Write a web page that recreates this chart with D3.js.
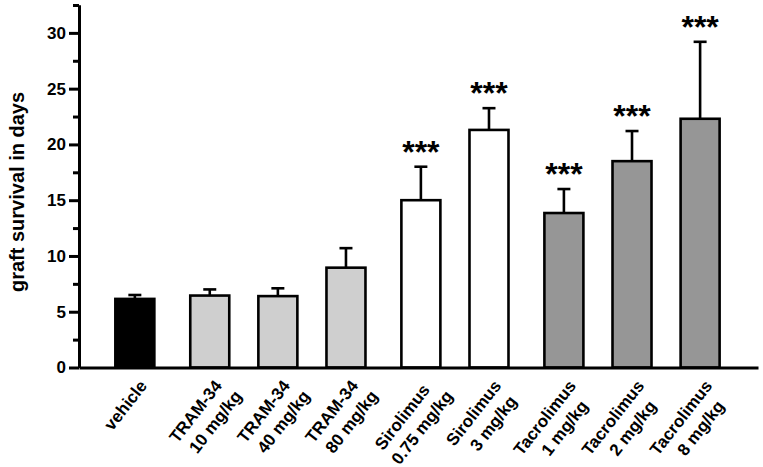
<!DOCTYPE html>
<html>
<head>
<meta charset="utf-8">
<script src="https://cdn.jsdelivr.net/npm/d3@7"></script>
<style>
  body { margin: 0; background: #fff; }
  text { font-family: "Liberation Sans", Arial, sans-serif; font-weight: bold; fill: #000; }
</style>
</head>
<body>
<svg width="763" height="467"></svg>
<script>
// data
const labels = [
    ["vehicle"],
    ["TRAM-34", "10 mg/kg"],
    ["TRAM-34", "40 mg/kg"],
    ["TRAM-34", "80 mg/kg"],
    ["Sirolimus", "0.75 mg/kg"],
    ["Sirolimus", "3 mg/kg"],
    ["Tacrolimus", "1 mg/kg"],
    ["Tacrolimus", "2 mg/kg"],
    ["Tacrolimus", "8 mg/kg"]
];
const groups = ["vehicle", "TRAM-34", "TRAM-34", "TRAM-34", "Sirolimus", "Sirolimus", "Tacrolimus", "Tacrolimus", "Tacrolimus"];
const means = [6.15, 6.45, 6.4, 8.95, 15.0, 21.3, 13.85, 18.5, 22.3];
const errors = [0.35, 0.55, 0.7, 1.75, 3.0, 1.95, 2.15, 2.7, 6.9];
const stars = ["", "", "", "", "***", "***", "***", "***", "***"];
const yTicks = [0, 5, 10, 15, 20, 25, 30];
const yMinorTicks = [2.5, 7.5, 12.5, 17.5, 22.5, 27.5, 32.5];
const groupFill = {"vehicle": "#000000", "TRAM-34": "#cfcfcf", "Sirolimus": "#ffffff", "Tacrolimus": "#969696"};

const svg = d3.select("svg");
const m = {left: 79, right: 758, top: 5, bottom: 367.5};
const barW = 39;

const groupNames = Array.from(new Set(groups));
const data = means.map((v, i) => ({
    mean: v,
    err: errors[i],
    group: groups[i],
    label: labels[i],
    star: stars[i],
    slot: i + groupNames.indexOf(groups[i]) * 0.1
}));

const x = d3.scaleLinear().domain([-0.82, 9.15]).range([m.left, m.right]);
const y = d3.scaleLinear().domain([0, 32.5]).range([m.bottom, m.top]);

// bars
svg.append("g").selectAll("rect")
    .data(data)
    .enter().append("rect")
    .attr("x", d => x(d.slot) - barW / 2)
    .attr("y", d => y(d.mean))
    .attr("width", barW)
    .attr("height", d => y(0) - y(d.mean))
    .attr("fill", d => groupFill[d.group])
    .attr("stroke", "#000")
    .attr("stroke-width", 2.6);

// upper error bars
const eb = svg.append("g").attr("stroke", "#000").attr("stroke-width", 2.6);
eb.selectAll(".stem")
    .data(data)
    .enter().append("line")
    .attr("x1", d => x(d.slot)).attr("x2", d => x(d.slot))
    .attr("y1", d => y(d.mean)).attr("y2", d => y(d.mean + d.err));
eb.selectAll(".cap")
    .data(data)
    .enter().append("line")
    .attr("x1", d => x(d.slot) - 6.5).attr("x2", d => x(d.slot) + 6.5)
    .attr("y1", d => y(d.mean + d.err)).attr("y2", d => y(d.mean + d.err));

// significance stars
svg.append("g").selectAll("text")
    .data(data.filter(d => d.star))
    .enter().append("text")
    .attr("x", d => x(d.slot))
    .attr("y", d => y(d.mean + d.err) - 4)
    .attr("text-anchor", "middle")
    .style("font-size", "32px")
    .text(d => d.star);

// y axis, major and minor ticks
const yAxis = svg.append("g")
    .attr("transform", `translate(${m.left},0)`)
    .call(d3.axisLeft(y).tickValues(yTicks).tickSize(10).tickSizeOuter(0).tickPadding(3));
yAxis.selectAll("text").style("font-size", "17px");
const yMinor = svg.append("g")
    .attr("transform", `translate(${m.left},0)`)
    .call(d3.axisLeft(y).tickValues(yMinorTicks).tickSize(6).tickSizeOuter(0).tickFormat(""));
[yAxis, yMinor].forEach(a => {
    a.selectAll("path, line").attr("stroke", "#000").attr("stroke-width", 3);
});

// x axis
const xAxis = svg.append("g")
    .attr("transform", `translate(0,${m.bottom})`)
    .call(d3.axisBottom(x).tickValues([]).tickSizeOuter(0));
xAxis.select("path").attr("stroke", "#000").attr("stroke-width", 3);

// rotated category labels
const lbl = svg.append("g").selectAll("text")
    .data(data)
    .enter().append("text")
    .attr("transform", d => `translate(${x(d.slot) + 13},386) rotate(-52)`)
    .attr("text-anchor", "end")
    .style("font-size", "17px");
lbl.each(function(d) {
    const t = d3.select(this);
    const spans = d.label.map((s, i) => t.append("tspan").attr("y", i * 22).text(s));
    const lens = spans.map(s => s.node().getComputedTextLength());
    const maxLen = d3.max(lens);
    spans.forEach((s, i) => s.attr("x", -(maxLen - lens[i]) / 2 + i * 4));
});

// y axis title
svg.append("text")
    .attr("transform", "translate(24,192) rotate(-90)")
    .attr("text-anchor", "middle")
    .style("font-size", "20px")
    .text("graft survival in days");
</script>
</body>
</html>
